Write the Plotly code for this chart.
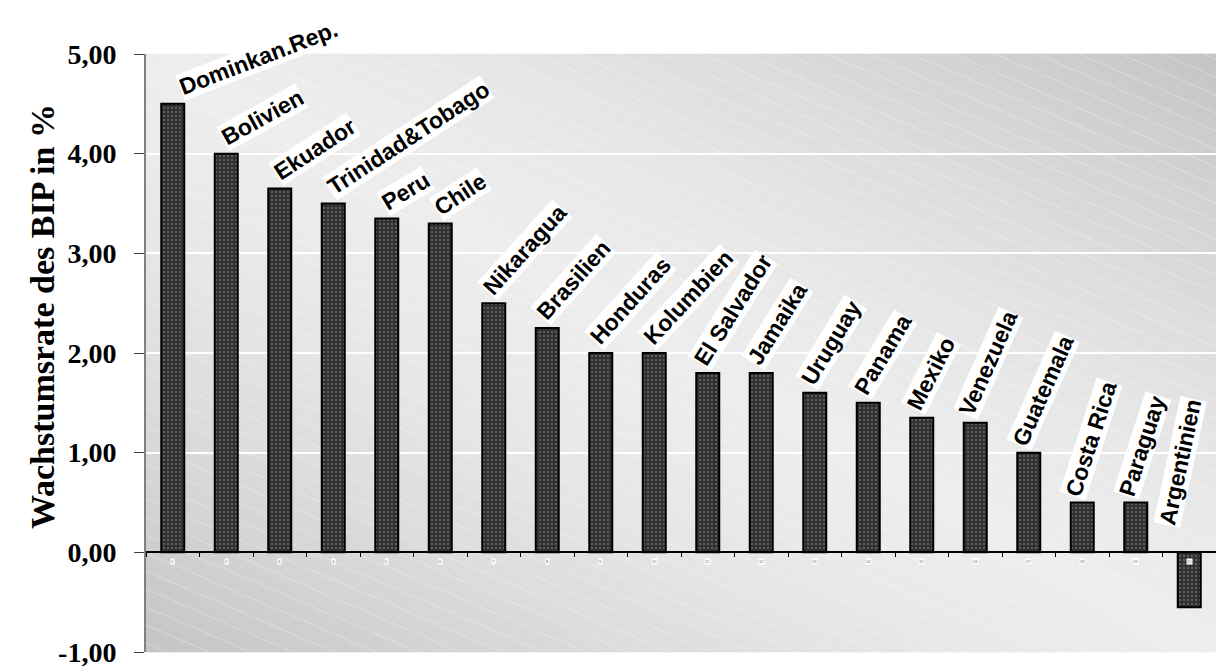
import math
import plotly.graph_objects as go

# ---------------- data ----------------
countries = ["Dominkan.Rep.", "Bolivien", "Ekuador", "Trinidad&Tobago", "Peru", "Chile",
             "Nikaragua", "Brasilien", "Honduras", "Kolumbien", "El Salvador", "Jamaika",
             "Uruguay", "Panama", "Mexiko", "Venezuela", "Guatemala", "Costa Rica",
             "Paraguay", "Argentinien"]
growth = [4.50, 4.00, 3.65, 3.50, 3.35, 3.30, 2.50, 2.25, 2.00, 2.00, 1.80, 1.80,
          1.60, 1.50, 1.35, 1.30, 1.00, 0.50, 0.50, -0.55]
category_numbers = [str(i + 1) for i in range(len(countries))]
y_ticks = [-1, 0, 1, 2, 3, 4, 5]
y_tick_text = [("%.2f" % v).replace(".", ",") for v in y_ticks]
y_title = "Wachstumsrate des BIP in %"

# ---------------- styling ----------------
FIG_W, FIG_H = 1216, 668
MARGIN = dict(l=146, r=0, t=54, b=16)
PLOT_W = FIG_W - MARGIN["l"] - MARGIN["r"]
PLOT_H = FIG_H - MARGIN["t"] - MARGIN["b"]
Y_RANGE = [-1, 5]

# rotation (degrees, counter-clockwise) of each category label
LABEL_ANGLES = [21, 29, 33, 33, 31, 33, 48, 48, 48, 47, 58, 58, 59, 59, 63, 66, 66, 72, 72, 78]
LABEL_FONT = dict(family="Liberation Sans", size=23, color="black", weight="bold")
LABEL_BOX_H = 29

LIGHT = (237, 237, 237)
DARK = (196, 196, 196)

fig = go.Figure()
fig.add_trace(go.Bar(
    x=countries, y=growth, width=0.43,
    marker=dict(
        color="#333333",
        line=dict(color="black", width=2),
        pattern=dict(shape=".", fgcolor="#8a8a8a", bgcolor="#2e2e2e", size=4, solidity=0.3),
    ),
    hoverinfo="x+y",
))

# ---------- background: diagonal gradient bands ----------
def band_poly(c1, c2):
    pts = []
    for (x, y) in [(0, 0), (1, 0), (1, 1), (0, 1)]:
        if c1 - 1e-9 <= x + y <= c2 + 1e-9:
            pts.append((x, y))
    for c in (c1, c2):
        for (x, y) in [(0, c), (1, c - 1), (c, 0), (c - 1, 1)]:
            if -1e-9 <= x <= 1 + 1e-9 and -1e-9 <= y <= 1 + 1e-9:
                pts.append((min(max(x, 0), 1), min(max(y, 0), 1)))
    uniq = []
    for p in pts:
        if all(abs(p[0] - q[0]) > 1e-7 or abs(p[1] - q[1]) > 1e-7 for q in uniq):
            uniq.append(p)
    cx = sum(p[0] for p in uniq) / len(uniq)
    cy = sum(p[1] for p in uniq) / len(uniq)
    uniq.sort(key=lambda p: math.atan2(p[1] - cy, p[0] - cx))
    return uniq

shapes = []
N_BANDS = 90
for i in range(N_BANDS):
    c1 = 2.0 * i / N_BANDS
    c2 = 2.0 * (i + 1) / N_BANDS
    poly = band_poly(c1, c2)
    if len(poly) < 3:
        continue
    d = abs((c1 + c2) / 2 - 1) ** 1.5
    col = tuple(round(LIGHT[k] + (DARK[k] - LIGHT[k]) * d) for k in range(3))
    colstr = "rgb(%d,%d,%d)" % col
    path = "M " + " L ".join("%.5f,%.5f" % p for p in poly) + " Z"
    shapes.append(dict(type="path", path=path, xref="paper", yref="paper",
                       fillcolor=colstr, line=dict(color=colstr, width=0.6), layer="below"))

# faint white diagonal stripes
slope_px = 0.43
k = slope_px * PLOT_W / PLOT_H
step = 18.0 / PLOT_H
c = step / 2
while c < 1 + k:
    x0 = max(0.0, (c - 1) / k)
    x1 = min(1.0, c / k)
    if x1 > x0:
        shapes.append(dict(type="line", xref="paper", yref="paper",
                           x0=x0, y0=c - k * x0, x1=x1, y1=c - k * x1,
                           line=dict(color="rgba(255,255,255,0.3)", width=1), layer="below"))
    c += step

# ---------- category labels ----------
annotations = []
last = len(countries) - 1
for i, (name, v, ang) in enumerate(zip(countries, growth, LABEL_ANGLES)):
    th = math.radians(ang)
    extra = 12 if i == 0 else (-8 if i == last else 4)
    annotations.append(dict(
        x=name, y=max(v, 0), xref="x", yref="y", text=name, showarrow=False,
        textangle=-ang, xanchor="left", yanchor="bottom",
        xshift=-LABEL_BOX_H * math.sin(th) + extra,
        yshift=2 if v >= 0 else 24,
        bgcolor="white", borderpad=0, font=LABEL_FONT,
    ))
for name, num in zip(countries, category_numbers):
    annotations.append(dict(
        x=name, y=0, xref="x", yref="y", text=num, showarrow=False,
        yshift=-9, bgcolor="white", borderpad=0,
        font=dict(family="Liberation Sans", size=4, color="#666666"),
    ))
# y-axis title
annotations.append(dict(
    text=y_title, xref="paper", yref="paper", x=0, y=0.56,
    xanchor="center", yanchor="middle", xshift=-104, textangle=-90, showarrow=False,
    font=dict(family="Liberation Serif", size=34, color="black", weight="bold"),
))

zero_pos = (0 - Y_RANGE[0]) / (Y_RANGE[1] - Y_RANGE[0])

fig.update_layout(
    width=FIG_W, height=FIG_H, margin=MARGIN,
    paper_bgcolor="white", plot_bgcolor="#dddddd",
    showlegend=False,
    shapes=shapes, annotations=annotations,
    xaxis=dict(
        type="category", showticklabels=False, showgrid=False, zeroline=False,
        showline=True, linecolor="black", linewidth=1.5,
        anchor="free", position=zero_pos,
        ticks="outside", tickson="boundaries", ticklen=4, tickcolor="black", tickwidth=1,
        range=[-0.5, len(countries) - 0.5],
    ),
    yaxis=dict(
        range=Y_RANGE, tickvals=y_ticks, ticktext=y_tick_text,
        tickfont=dict(family="Liberation Serif", size=28, color="black", weight="bold"),
        showline=True, linecolor="#808080", linewidth=2,
        ticks="outside", ticklen=10, tickcolor="#404040", tickwidth=1,
        ticklabelstandoff=12,
        showgrid=True, gridcolor="white", gridwidth=1.5, zeroline=False,
        automargin=False,
    ),
)

fig.write_html(
    "out.html",
    config={"displayModeBar": False},
    post_script="document.body.style.margin='0px';document.body.style.overflow='hidden';",
)
